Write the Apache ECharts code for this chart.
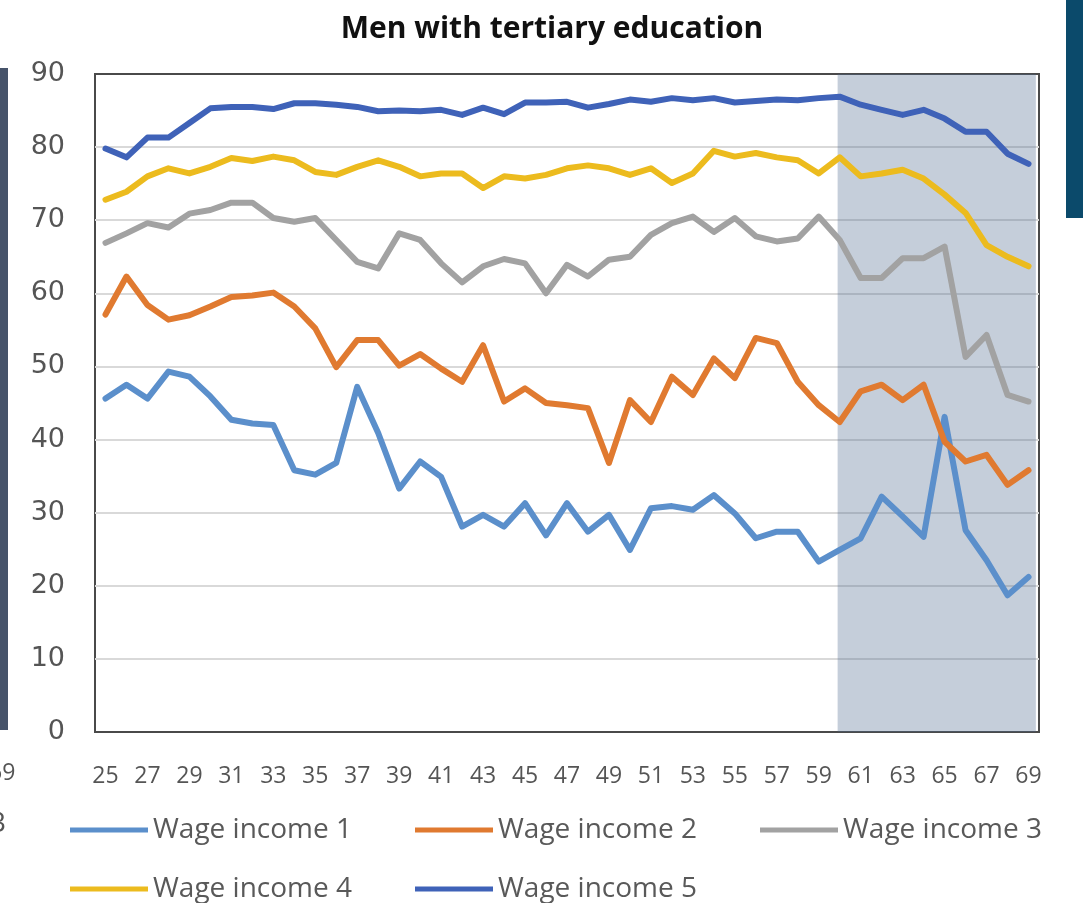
<!DOCTYPE html>
<html>
<head>
<meta charset="utf-8">
<title>Men with tertiary education</title>
<script src="https://cdn.jsdelivr.net/npm/echarts@6/dist/echarts.min.js"></script>
<style>
  html, body { margin: 0; padding: 0; background: #fff; }
  #chart { width: 1083px; height: 903px; }
</style>
</head>
<body>
<div id="chart"></div>
<script>
// ages on the x axis
const ages = [25, 26, 27, 28, 29, 30, 31, 32, 33, 34, 35, 36, 37, 38, 39, 40, 41, 42, 43, 44, 45, 46,
  47, 48, 49, 50, 51, 52, 53, 54, 55, 56, 57, 58, 59, 60, 61, 62, 63, 64, 65, 66, 67, 68, 69]
const ageLabels = [25, 27, 29, 31, 33, 35, 37, 39, 41, 43, 45, 47, 49, 51, 53, 55, 57, 59, 61, 63, 65, 67, 69]
const yTicks = [0, 10, 20, 30, 40, 50, 60, 70, 80, 90]

const seriesNames = ['Wage income 1', 'Wage income 2', 'Wage income 3', 'Wage income 4', 'Wage income 5']

const income1 = [45.6, 47.5, 45.6, 49.3, 48.6, 45.9, 42.7, 42.2, 42.0, 35.8,
  35.2, 36.8, 47.2, 40.9, 33.3, 37.0, 34.9, 28.1, 29.7, 28.1,
  31.3, 26.9, 31.3, 27.4, 29.7, 24.9, 30.6, 30.9, 30.4, 32.4,
  29.9, 26.5, 27.4, 27.4, 23.3, 24.9, 26.5, 32.2, 29.5, 26.7,
  43.1, 27.6, 23.5, 18.7, 21.2]
const income2 = [57.1, 62.3, 58.4, 56.4, 57.0, 58.2, 59.5, 59.7, 60.1, 58.2,
  55.2, 49.9, 53.6, 53.6, 50.1, 51.7, 49.7, 47.9, 52.9, 45.2,
  47.0, 45.0, 44.7, 44.3, 36.8, 45.4, 42.4, 48.6, 46.1, 51.1,
  48.4, 53.9, 53.2, 47.9, 44.7, 42.4, 46.6, 47.5, 45.4, 47.5,
  39.7, 37.0, 37.9, 33.8, 35.8]
const income3 = [66.9, 68.2, 69.6, 69.0, 70.9, 71.4, 72.4, 72.4, 70.3, 69.8,
  70.3, 67.3, 64.3, 63.4, 68.2, 67.3, 64.1, 61.5, 63.7, 64.7,
  64.1, 60.0, 63.9, 62.3, 64.6, 65.0, 68.0, 69.6, 70.5, 68.4,
  70.3, 67.8, 67.1, 67.5, 70.5, 67.3, 62.1, 62.1, 64.8, 64.8,
  66.4, 51.3, 54.3, 46.1, 45.2]
const income4 = [72.8, 73.9, 76.0, 77.1, 76.4, 77.3, 78.5, 78.1, 78.7, 78.2,
  76.6, 76.2, 77.3, 78.2, 77.3, 76.0, 76.4, 76.4, 74.4, 76.0,
  75.7, 76.2, 77.1, 77.5, 77.1, 76.2, 77.1, 75.1, 76.4, 79.5,
  78.7, 79.2, 78.6, 78.2, 76.4, 78.6, 76.0, 76.4, 76.9, 75.7,
  73.5, 71.0, 66.6, 65.0, 63.7]
const income5 = [79.8, 78.6, 81.3, 81.3, 83.3, 85.3, 85.5, 85.5, 85.2, 86.0,
  86.0, 85.8, 85.5, 84.9, 85.0, 84.9, 85.1, 84.4, 85.4, 84.5,
  86.1, 86.1, 86.2, 85.4, 85.9, 86.5, 86.2, 86.7, 86.4, 86.7,
  86.1, 86.3, 86.5, 86.4, 86.7, 86.9, 85.8, 85.1, 84.4, 85.1,
  83.9, 82.1, 82.1, 79.1, 77.7]

// shaded age band (retirement ages)
const shadeFrom = 60

const colors = ['#5b8fcb', '#e07a30', '#a2a2a2', '#ecbb1e', '#3f62b8']
const allIncome = [income1, income2, income3, income4, income5]

const frameColor = '#4a4a4a'
const gridColor = '#d9d9d9'

const chart = echarts.init(document.getElementById('chart'))

const lineSeries = seriesNames.map((name, k) => ({
  name: name,
  type: 'line',
  symbol: 'none',
  smooth: false,
  z: 2,
  lineStyle: { width: 6, color: colors[k], cap: 'round', join: 'round' },
  itemStyle: { color: colors[k] },
  data: ages.map((a, i) => [a, allIncome[k][i]])
}))

const legendBase = {
  left: 65,
  orient: 'horizontal',
  icon: 'rect',
  itemWidth: 78,
  itemHeight: 5,
  itemGap: 56,
  textStyle: {
    fontFamily: 'Open Sans',
    fontSize: 28,
    color: '#595959',
    width: 206,
    lineHeight: 30
  }
}

chart.setOption({
  animation: false,
  color: colors,
  title: {
    text: 'Men with tertiary education',
    left: 547,
    textAlign: 'center',
    top: 9,
    textStyle: { fontFamily: 'Open Sans', fontWeight: 'bold', fontSize: 30, color: '#111' }
  },
  legend: [
    Object.assign({}, legendBase, { top: 810, data: seriesNames.slice(0, 3) }),
    Object.assign({}, legendBase, { top: 869, data: seriesNames.slice(3) })
  ],
  grid: {
    left: 95,
    right: 44,
    top: 74,
    bottom: 171,
    show: true,
    borderColor: frameColor,
    borderWidth: 2,
    backgroundColor: 'transparent'
  },
  xAxis: {
    type: 'value',
    min: ages[0] - 0.5,
    max: ages[ages.length - 1] + 0.5,
    axisLine: { show: false },
    axisTick: { show: false },
    splitLine: { show: false },
    axisLabel: {
      customValues: ageLabels,
      margin: 33,
      fontFamily: 'Open Sans',
      fontSize: 23,
      color: '#555'
    }
  },
  yAxis: {
    type: 'value',
    min: yTicks[0],
    max: yTicks[yTicks.length - 1],
    interval: 10,
    axisLine: { show: false },
    axisTick: { show: false },
    splitLine: {
      lineStyle: {
        // bottom and top lines sit on the frame
        color: yTicks.map((t, i) => (i === 0 || i === yTicks.length - 1) ? frameColor : gridColor),
        width: 2
      }
    },
    axisLabel: {
      margin: 30,
      fontFamily: 'DejaVu Sans',
      fontSize: 27,
      color: '#555'
    }
  },
  series: lineSeries.concat([{
    name: 'shade',
    type: 'line',
    data: [],
    z: 5,
    silent: true,
    markArea: {
      silent: true,
      itemStyle: { color: 'rgba(79,106,143,0.33)' },
      data: [[{ xAxis: shadeFrom - 0.1 }, { xAxis: ages[ages.length - 1] + 0.35 }]]
    }
  }]),
  graphic: [
    // bits of the neighbouring panels cut off at the edges
    { type: 'rect', left: 0, top: 68, shape: { width: 8, height: 662 }, style: { fill: '#46536a' } },
    { type: 'rect', left: 1066, top: 0, shape: { width: 17, height: 218 }, style: { fill: '#0b4a6b' } },
    { type: 'text', left: -11, top: 762, style: { text: '69', fontFamily: 'Open Sans', fontSize: 23, fill: '#555' } },
    { type: 'text', left: -10, top: 810, style: { text: '3', fontFamily: 'Open Sans', fontSize: 28, fill: '#555' } }
  ]
})
</script>
</body>
</html>
